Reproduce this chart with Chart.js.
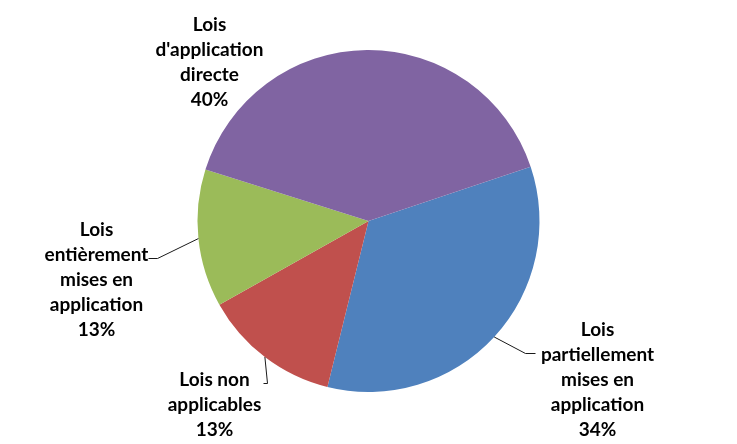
<!DOCTYPE html>
<html>
<head>
<meta charset="utf-8">
<script src="https://cdn.jsdelivr.net/npm/chart.js@4/dist/chart.umd.min.js"></script>
<style>
html,body{margin:0;padding:0;background:#fff;}
#wrap{position:relative;width:737px;height:444px;}
</style>
</head>
<body>
<div id="wrap"><canvas id="c"></canvas></div>
<script>
// ---- data ----
const categories = [
  ['Lois', 'partiellement', 'mises en', 'application'],
  ['Lois non', 'applicables'],
  ['Lois', 'entièrement', 'mises en', 'application'],
  ['Lois', "d'application", 'directe']
];
const values = [34, 13, 13, 40];
const colors = ['#4F81BD', '#C0504D', '#9BBB59', '#8064A2'];

// ---- label layout (px offsets from pie centre, for radius 171) ----
const labelLayout = [
  { dx: 229,  dy: 114.5, leader: [[157, 132], [167, 132]] },
  { dx: -154, dy: 164.5, leader: [[-101, 162], [-105, 162]] },
  { dx: -272, dy: 14.5,  leader: [[-211, 37], [-220, 37]] },
  { dx: -159, dy: -190,  leader: null }
];

const labelPlugin = {
  id: 'pieLabels',
  afterDraw(chart) {
    const ctx = chart.ctx;
    const meta = chart.getDatasetMeta(0);
    const total = values.reduce((a, b) => a + b, 0);
    const lineH = 25;
    ctx.save();
    ctx.font = 'bold 19px Lato, "Liberation Sans", sans-serif';
    ctx.fillStyle = '#000';
    ctx.textAlign = 'center';
    ctx.textBaseline = 'alphabetic';
    meta.data.forEach((arc, i) => {
      const p = arc.getProps(['x', 'y', 'startAngle', 'endAngle', 'outerRadius'], true);
      const k = p.outerRadius / 171;
      const L = labelLayout[i];
      const lines = categories[i].concat([Math.round(values[i] / total * 100) + '%']);
      const lx = p.x + L.dx * k;
      const ly = p.y + L.dy * k;
      lines.forEach((t, j) => ctx.fillText(t, lx, ly + j * lineH));
      if (L.leader) {
        const mid = (p.startAngle + p.endAngle) / 2;
        ctx.beginPath();
        ctx.strokeStyle = '#1a1a1a';
        ctx.lineWidth = 1;
        ctx.moveTo(p.x + Math.cos(mid) * p.outerRadius, p.y + Math.sin(mid) * p.outerRadius);
        L.leader.forEach(pt => ctx.lineTo(p.x + pt[0] * k, p.y + pt[1] * k + 0.5));
        ctx.stroke();
      }
    });
    ctx.restore();
  }
};

new Chart(document.getElementById('c'), {
  type: 'pie',
  data: {
    labels: categories,
    datasets: [{
      data: values,
      backgroundColor: colors,
      borderWidth: 0
    }]
  },
  options: {
    responsive: true,
    maintainAspectRatio: false,
    animation: false,
    rotation: 71.5,
    layout: { padding: { top: 50, bottom: 52, left: 0, right: 0 } },
    plugins: {
      legend: { display: false },
      tooltip: { enabled: false }
    }
  },
  plugins: [labelPlugin]
});
</script>
</body>
</html>
